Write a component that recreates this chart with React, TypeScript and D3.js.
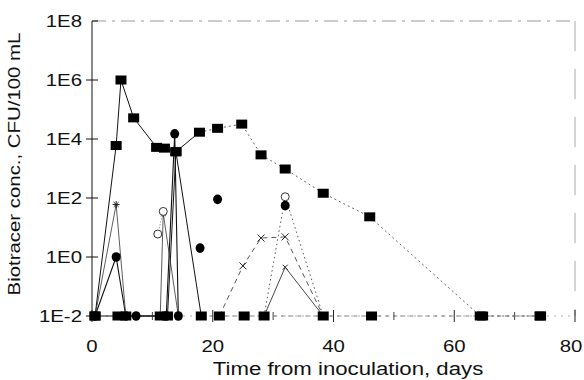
import React from "react";
import * as d3 from "d3";

// tick labels
const yTicks = [1e-2, 1, 1e2, 1e4, 1e6, 1e8];
const yTickLabels = ["1E-2", "1E0", "1E2", "1E4", "1E6", "1E8"];
const xTicks = [0, 20, 40, 60, 80];
const xMinorTicks = [10, 30, 50, 70];

// filled squares, main curve
const sqMainDays = [0.5, 4, 4.8, 6.9, 10.7, 12, 13.9, 17.8, 20.8, 24.8, 28, 32, 38.3, 46, 64.3, 74.2];
const sqMainVals = [0.01, 6e3, 1e6, 5.2e4, 5.2e3, 4.9e3, 3.7e3, 1.7e4, 2.3e4, 3.2e4, 2.9e3, 960, 145, 23, 0.01, 0.01];

// filled squares, mostly below detection
const sqLowDays = [0.5, 4.3, 5.6, 11.3, 12.5, 13.9, 18.1, 21.1, 25.2, 28.5, 38.3, 46.3, 64.7, 74.3];
const sqLowVals = [0.01, 0.01, 0.01, 0.01, 0.01, 3.7e3, 0.01, 0.01, 0.01, 0.01, 0.01, 0.01, 0.01, 0.01];

// filled circles
const circDays = [0.5, 4, 5.6, 7.3, 12.3, 13.7, 14.3];
const circVals = [0.01, 1, 0.01, 0.01, 0.01, 1.5e4, 0.01];
const circLoneDays = [17.9, 20.8, 32];
const circLoneVals = [2, 90, 55];

// asterisks
const astDays = [0.5, 4, 5.6, 11.3, 11.8, 14.3];
const astVals = [0.01, 60, 0.01, 0.01, 30, 0.01];

// open circles
const ocDays = [10.9, 11.8];
const ocVals = [6, 35];
const ocLateDays = [28.5, 32, 38.3];
const ocLateVals = [0.01, 110, 0.01];

// x marks
const xmDays = [21.1, 25, 28, 32, 38.3];
const xmVals = [0.01, 0.5, 4.4, 4.8, 0.01];

// small crosses
const crDays = [28.5, 32, 38.3];
const crVals = [0.01, 0.45, 0.01];

const W = 584;
const H = 380;
const font = "'Liberation Sans', Arial, Helvetica, sans-serif";

const x = d3.scaleLinear().domain([0, 80]).range([92, 575]);
const y = d3.scaleLog().domain([1e-2, 1e8]).range([316, 21]);

const zip = (days: number[], vals: number[]) => days.map((d, i) => ({ d, v: vals[i] }));
const line = d3
  .line<{ d: number; v: number }>()
  .x((p) => x(p.d))
  .y((p) => y(p.v));

const sqMain = zip(sqMainDays, sqMainVals);
const sqLow = zip(sqLowDays, sqLowVals);
const circ = zip(circDays, circVals);
const circLone = zip(circLoneDays, circLoneVals);
const ast = zip(astDays, astVals);
const oc = zip(ocDays, ocVals);
const ocLate = zip(ocLateDays, ocLateVals);
const xm = zip(xmDays, xmVals);
const cr = zip(crDays, crVals);

// the scanned lettering is wider than Arial, so stretch it a bit
const Wide = ({ x: tx, y: ty, anchor, size, rotate = 0, children }: any) => (
  <g transform={`translate(${tx},${ty}) rotate(${rotate}) scale(1.2,1)`}>
    <text x={0} y={0} textAnchor={anchor} fontSize={size} fill="#111">
      {children}
    </text>
  </g>
);

const Square = ({ p }: any) => (
  <rect x={x(p.d) - 5.5} y={y(p.v) - 4.5} width={11} height={9} fill="#000" />
);
const Dot = ({ p }: any) => <ellipse cx={x(p.d)} cy={y(p.v)} rx={4.5} ry={4.8} fill="#000" />;
const Ring = ({ p }: any) => (
  <circle cx={x(p.d)} cy={y(p.v)} r={4} fill="#fff" stroke="#333" strokeWidth={1} />
);
const Star = ({ p }: any) => {
  const cx = x(p.d), cy = y(p.v), r = 3.5;
  return (
    <g stroke="#222" strokeWidth={1}>
      <line x1={cx - r} y1={cy} x2={cx + r} y2={cy} />
      <line x1={cx - r * 0.7} y1={cy - r * 0.7} x2={cx + r * 0.7} y2={cy + r * 0.7} />
      <line x1={cx - r * 0.7} y1={cy + r * 0.7} x2={cx + r * 0.7} y2={cy - r * 0.7} />
      <line x1={cx} y1={cy - r} x2={cx} y2={cy + r} />
    </g>
  );
};
const Cross = ({ p, r = 3.5 }: any) => {
  const cx = x(p.d), cy = y(p.v);
  return (
    <g stroke="#222" strokeWidth={1}>
      <line x1={cx - r} y1={cy - r} x2={cx + r} y2={cy + r} />
      <line x1={cx - r} y1={cy + r} x2={cx + r} y2={cy - r} />
    </g>
  );
};

export default function App() {
  const bottom = y(1e-2);
  return (
    <svg
      width={W}
      height={H}
      style={{ position: "absolute", left: 0, top: 0, background: "#fff" }}
      fontFamily={font}
    >
      {/* frame */}
      <line x1={x(0)} y1={y(1e8)} x2={x(80)} y2={y(1e8)} stroke="#999" strokeWidth={1} strokeDasharray="14,6,3,6" />
      <line x1={x(80)} y1={y(1e8)} x2={x(80)} y2={bottom} stroke="#aaa" strokeWidth={1} strokeDasharray="30,18" />
      <line x1={x(0)} y1={y(1e8)} x2={x(0)} y2={bottom} stroke="#111" strokeWidth={1} />
      <line x1={x(0)} y1={bottom} x2={x(80)} y2={bottom} stroke="#999" strokeWidth={0.8} strokeDasharray="2,5" />

      {/* y ticks */}
      {yTicks.map((t, i) => (
        <g key={t}>
          <line x1={x(0) - (i === 5 ? 0 : 6)} y1={y(t)} x2={x(0) + 6} y2={y(t)} stroke="#111" />
          <Wide x={82} y={y(t) + 6} anchor="end" size={17}>
            {yTickLabels[i]}
          </Wide>
        </g>
      ))}
      {/* x ticks */}
      {xTicks.map((t) => (
        <g key={t}>
          <line x1={x(t)} y1={bottom - 6} x2={x(t)} y2={bottom + 6} stroke="#222" />
          <Wide x={Math.min(x(t), 571)} y={352} anchor="middle" size={17}>
            {t}
          </Wide>
        </g>
      ))}
      {xMinorTicks.map((t) => (
        <line key={t} x1={x(t)} y1={bottom - 4} x2={x(t)} y2={bottom + 4} stroke="#444" />
      ))}

      {/* lines */}
      <path d={line(sqMain.slice(0, 8)) ?? ""} fill="none" stroke="#111" strokeWidth={1} />
      <path d={line(sqMain.slice(7)) ?? ""} fill="none" stroke="#555" strokeWidth={0.9} strokeDasharray="2,3" />
      <path d={line(sqLow.slice(0, 7)) ?? ""} fill="none" stroke="#111" strokeWidth={1} />
      <path d={line(sqLow.slice(6)) ?? ""} fill="none" stroke="#666" strokeWidth={0.8} strokeDasharray="4,4" />
      <path d={line(circ) ?? ""} fill="none" stroke="#111" strokeWidth={1.1} />
      <path d={line(ast) ?? ""} fill="none" stroke="#333" strokeWidth={0.8} />
      <path d={line(oc) ?? ""} fill="none" stroke="#555" strokeWidth={0.8} strokeDasharray="1,2" />
      <path d={line(ocLate) ?? ""} fill="none" stroke="#555" strokeWidth={1} strokeDasharray="1.5,3" />
      <path d={line(xm) ?? ""} fill="none" stroke="#444" strokeWidth={0.9} strokeDasharray="5,4" />
      <path d={line(cr) ?? ""} fill="none" stroke="#333" strokeWidth={0.9} />

      {/* markers */}
      {circ.map((p, i) => <Dot key={"c" + i} p={p} />)}
      {circLone.map((p, i) => <Dot key={"cl" + i} p={p} />)}
      {ast.filter((p) => p.v > 0.01).map((p, i) => <Star key={"a" + i} p={p} />)}
      {oc.map((p, i) => <Ring key={"o" + i} p={p} />)}
      {ocLate.filter((p) => p.v > 0.01).map((p, i) => <Ring key={"ol" + i} p={p} />)}
      {xm.filter((p) => p.v > 0.01).map((p, i) => <Cross key={"x" + i} p={p} />)}
      {cr.filter((p) => p.v > 0.01).map((p, i) => <Cross key={"r" + i} p={p} r={2.5} />)}
      {sqLow.map((p, i) => <Square key={"sl" + i} p={p} />)}
      {sqMain.map((p, i) => <Square key={"s" + i} p={p} />)}

      {/* axis titles */}
      <Wide x={348} y={375} anchor="middle" size={18.5}>
        Time from inoculation, days
      </Wide>
      <Wide x={20} y={164} anchor="middle" size={17} rotate={-90}>
        Biotracer conc., CFU/100 mL
      </Wide>
    </svg>
  );
}
